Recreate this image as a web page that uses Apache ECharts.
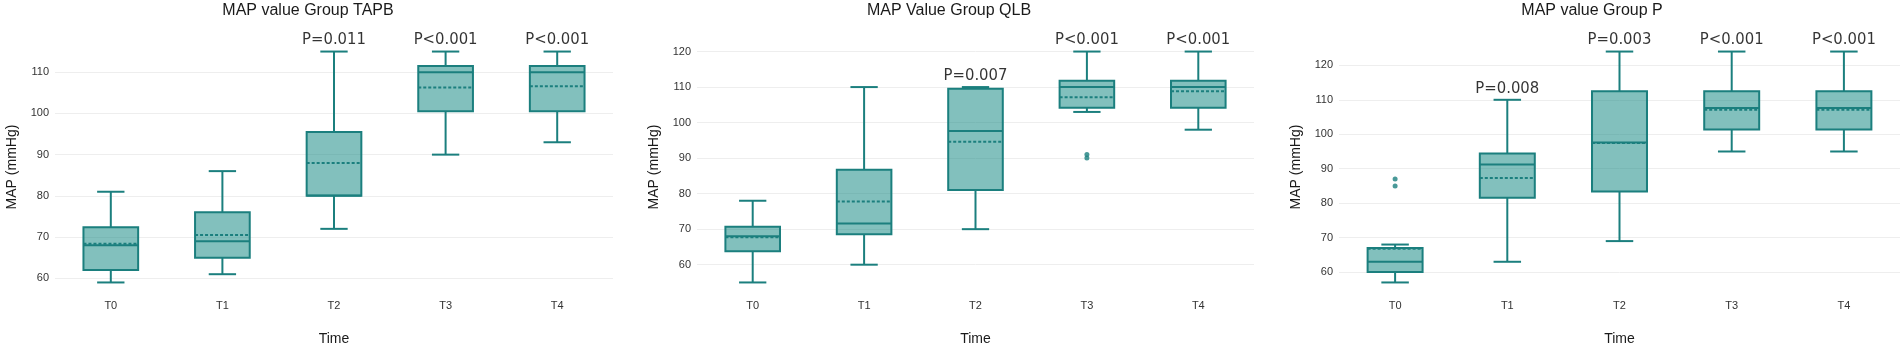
<!DOCTYPE html>
<html>
<head>
<meta charset="utf-8">
<script src="https://cdn.jsdelivr.net/npm/echarts@6/dist/echarts.min.js"></script>
<style>
html, body { margin: 0; padding: 0; background: #fff; }
#chart { width: 1902px; height: 351px; }
</style>
</head>
<body>
<div id="chart"></div>
<script>
const categories = ['T0', 'T1', 'T2', 'T3', 'T4'];

// each box: [lower whisker, Q1, median, Q3, upper whisker]
const tapbBoxes = [
  [59, 62, 68, 72.4, 81],
  [61, 65, 69, 76, 86],
  [72, 80, 80.1, 95.5, 115],
  [90, 100.5, 110, 111.5, 115],
  [93, 100.5, 110, 111.5, 115]
];
const tapbMeans = [68.4, 70.5, 88, 106.3, 106.6];
const tapbOutliers = [];
const tapbPLabels = ['', '', 'P=0.011', 'P<0.001', 'P<0.001'];

const qlbBoxes = [
  [55, 63.8, 68, 70.7, 78],
  [60, 68.6, 71.6, 86.7, 110],
  [70, 81, 97.6, 109.5, 110],
  [103, 104.2, 110, 111.8, 120],
  [98, 104.2, 110, 111.8, 120]
];
const qlbMeans = [67.7, 77.8, 94.6, 107.1, 108.8];
const qlbOutliers = [['T3', 91], ['T3', 90]];
const qlbPLabels = ['', '', 'P=0.007', 'P<0.001', 'P<0.001'];

const pBoxes = [
  [57, 60, 63, 67, 68],
  [63, 81.6, 91.2, 94.4, 110],
  [69, 83.4, 97.6, 112.5, 124],
  [95, 101.4, 107.6, 112.5, 124],
  [95, 101.4, 107.6, 112.5, 124]
];
const pMeans = [66.8, 87.3, 97.5, 107.1, 107.1];
const pOutliers = [['T0', 87], ['T0', 85]];
const pPLabels = ['', 'P=0.008', 'P=0.003', 'P<0.001', 'P<0.001'];

const LINE = '#1b7f7e';
const FILL = 'rgba(27,140,135,0.55)';
const FONT = 'Liberation Sans';

const panels = [
  { title: 'MAP value Group TAPB', boxes: tapbBoxes, means: tapbMeans, outliers: tapbOutliers, pLabels: tapbPLabels,
    yMin: 56.2, yMax: 117.8, left: 55, width: 558, titleX: 308 },
  { title: 'MAP Value Group QLB', boxes: qlbBoxes, means: qlbMeans, outliers: qlbOutliers, pLabels: qlbPLabels,
    yMin: 51.75, yMax: 123.25, left: 697, width: 557, titleX: 949 },
  { title: 'MAP value Group P', boxes: pBoxes, means: pMeans, outliers: pOutliers, pLabels: pPLabels,
    yMin: 53.65, yMax: 127.35, left: 1339, width: 561, titleX: 1592 }
];

function renderBox(params, api) {
  const x = api.value(0);
  const band = api.size([1, 0])[0];
  const half = band * 0.245;
  const cap = half / 2;
  const low = api.coord([x, api.value(1)]);
  const q1 = api.coord([x, api.value(2)]);
  const med = api.coord([x, api.value(3)]);
  const q3 = api.coord([x, api.value(4)]);
  const high = api.coord([x, api.value(5)]);
  const mean = api.coord([x, api.value(6)]);
  const cx = low[0];
  const st = { stroke: LINE, lineWidth: 2, fill: null };
  return {
    type: 'group',
    children: [
      { type: 'line', shape: { x1: cx, y1: q3[1], x2: cx, y2: high[1] }, style: st },
      { type: 'line', shape: { x1: cx - cap, y1: high[1], x2: cx + cap, y2: high[1] }, style: st },
      { type: 'line', shape: { x1: cx, y1: q1[1], x2: cx, y2: low[1] }, style: st },
      { type: 'line', shape: { x1: cx - cap, y1: low[1], x2: cx + cap, y2: low[1] }, style: st },
      { type: 'rect', shape: { x: cx - half, y: q3[1], width: half * 2, height: q1[1] - q3[1] },
        style: { fill: FILL, stroke: LINE, lineWidth: 2 } },
      { type: 'line', shape: { x1: cx - half, y1: med[1], x2: cx + half, y2: med[1] }, style: st },
      { type: 'line', shape: { x1: cx - half, y1: mean[1], x2: cx + half, y2: mean[1] },
        style: { stroke: LINE, lineWidth: 2, lineDash: [3, 2], fill: null } }
    ]
  };
}

const option = {
  animation: false,
  backgroundColor: '#fff',
  title: [],
  grid: [],
  xAxis: [],
  yAxis: [],
  series: []
};

panels.forEach((p, k) => {
  option.title.push({
    text: p.title, left: p.titleX, top: 3, textAlign: 'center', padding: 0,
    textStyle: { fontFamily: FONT, fontSize: 16, fontWeight: 'normal', color: '#1a1a1a' }
  });
  option.grid.push({ left: p.left, width: p.width, top: 40, bottom: 57 });
  option.xAxis.push({
    type: 'category', gridIndex: k, data: categories,
    name: 'Time', nameLocation: 'middle', nameGap: 38,
    nameTextStyle: { fontFamily: FONT, fontSize: 14, color: '#1a1a1a' },
    axisLine: { show: false }, axisTick: { show: false },
    axisLabel: { fontFamily: FONT, fontSize: 11, color: '#333', margin: 6 },
    splitLine: { show: false }
  });
  option.yAxis.push({
    type: 'value', gridIndex: k, min: p.yMin, max: p.yMax, splitNumber: 5,
    name: 'MAP (mmHg)', nameLocation: 'middle', nameGap: 36,
    nameTextStyle: { fontFamily: FONT, fontSize: 14, color: '#1a1a1a' },
    axisLine: { show: false }, axisTick: { show: false },
    axisLabel: { fontFamily: FONT, fontSize: 11, color: '#333', margin: 6, showMinLabel: false, showMaxLabel: false },
    splitLine: { show: true, showMinLine: false, showMaxLine: false, lineStyle: { color: '#eeeeee', width: 1 } }
  });
  option.series.push({
    type: 'custom', xAxisIndex: k, yAxisIndex: k,
    renderItem: renderBox,
    encode: { x: 0, y: [1, 2, 3, 4, 5, 6] },
    data: p.boxes.map((b, i) => [i].concat(b, [p.means[i]]))
  });
  option.series.push({
    type: 'scatter', xAxisIndex: k, yAxisIndex: k,
    symbolSize: 5, itemStyle: { color: LINE },
    data: p.outliers
  });
  option.series.push({
    type: 'scatter', xAxisIndex: k, yAxisIndex: k,
    symbolSize: 0, silent: true,
    label: {
      show: true, position: 'top', distance: 3, formatter: '{b}',
      fontFamily: '"DejaVu Sans Condensed", sans-serif', fontSize: 16.5, color: '#000'
    },
    data: p.pLabels.map((t, i) => ({ name: t, value: [i, p.boxes[i][4]] })).filter(d => d.name)
  });
});

const myChart = echarts.init(document.getElementById('chart'));
myChart.setOption(option);
</script>
</body>
</html>
